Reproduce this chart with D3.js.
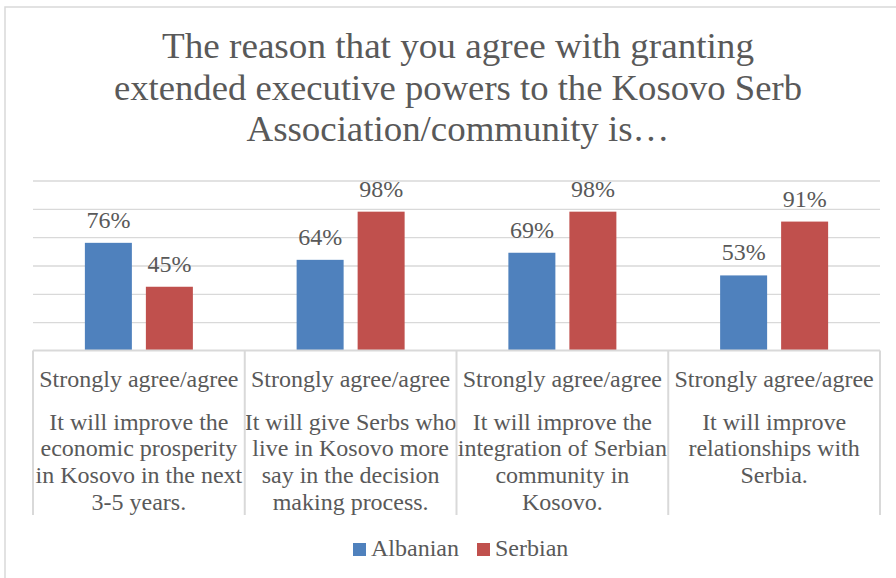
<!DOCTYPE html>
<html>
<head>
<meta charset="utf-8">
<script src="https://cdn.jsdelivr.net/npm/d3@7"></script>
<style>
  html, body { margin: 0; padding: 0; background: #ffffff; }
  svg { display: block; }
  text { font-family: "Liberation Serif", "DejaVu Serif", serif; fill: #595959; }
</style>
</head>
<body>
<svg id="chart" width="896" height="578"></svg>
<script>
// ---- data ----
const titleLines = [
  "The reason that you agree with granting",
  "extended executive powers to the Kosovo Serb",
  "Association/community is\u2026"
];
const categories = ["q1", "q2", "q3", "q4"];
const groupLabel = "Strongly agree/agree";
const categoryLines = [
  ["It will improve the", "economic prosperity", "in Kosovo in the next", "3-5 years."],
  ["It will give Serbs who", "live in Kosovo more", "say in the decision", "making process."],
  ["It will improve the", "integration of Serbian", "community in", "Kosovo."],
  ["It will improve", "relationships with", "Serbia."]
];
const seriesNames = ["Albanian", "Serbian"];
const albanian = [0.76, 0.64, 0.69, 0.53];
const serbian = [0.45, 0.98, 0.98, 0.91];
const yTicks = [0, 0.2, 0.4, 0.6, 0.8, 1.0, 1.2];
const colors = ["#4F81BD", "#C0504D"];

const seriesValues = [albanian, serbian];

// ---- layout ----
const svg = d3.select("#chart");
const plot = { left: 33, right: 880, top: 180.5, bottom: 350.5 };
const titleWidths = [592, 688, 423];

// chart area frame (top and left edges visible)
svg.append("path")
  .attr("d", "M5,578 L5,7 L896,7")
  .attr("fill", "none")
  .attr("stroke", "#d9d9d9")
  .attr("stroke-width", 1.5);

// title
svg.append("g").selectAll("text")
  .data(titleLines)
  .join("text")
  .attr("x", 458)
  .attr("y", (d, i) => 58 + i * 41.5)
  .attr("text-anchor", "middle")
  .attr("font-size", 35)
  .attr("textLength", (d, i) => titleWidths[i])
  .attr("lengthAdjust", "spacingAndGlyphs")
  .text(d => d);

// scales
const x0 = d3.scaleBand().domain(categories).range([plot.left, plot.right]);
const bandW = x0.bandwidth();
const x1 = d3.scaleBand().domain(seriesNames)
  .range([bandW / 2 - 54, bandW / 2 + 54])
  .paddingInner(14 / 61);
const y = d3.scaleLinear().domain([0, 1.2]).range([plot.bottom, plot.top]);

// gridlines
const grid = svg.append("g")
  .attr("transform", `translate(${plot.left},0)`)
  .call(d3.axisLeft(y).tickValues(yTicks.slice(1)).tickSize(-(plot.right - plot.left)).tickFormat(""));
grid.select(".domain").remove();
grid.selectAll(".tick line").attr("stroke", "#d9d9d9").attr("stroke-width", 1.3);

// bars
const groups = svg.append("g").selectAll("g")
  .data(categories)
  .join("g")
  .attr("transform", d => `translate(${x0(d)},0)`);

groups.selectAll("rect")
  .data((c, i) => seriesNames.map((s, k) => ({ s, k, v: seriesValues[k][i] })))
  .join("rect")
  .attr("x", d => x1(d.s))
  .attr("y", d => y(d.v))
  .attr("width", x1.bandwidth())
  .attr("height", d => y(0) - y(d.v))
  .attr("fill", d => colors[d.k]);

// value labels
groups.selectAll("text.val")
  .data((c, i) => seriesNames.map((s, k) => ({ s, k, v: seriesValues[k][i] })))
  .join("text")
  .attr("class", "val")
  .attr("x", d => x1(d.s) + x1.bandwidth() / 2)
  .attr("y", d => y(d.v) - 15)
  .attr("text-anchor", "middle")
  .attr("font-size", 24)
  .text(d => d3.format(".0%")(d.v));

// category axis: baseline and dividers
const axisG = svg.append("g");
axisG.append("line")
  .attr("x1", plot.left).attr("x2", plot.right)
  .attr("y1", y(0)).attr("y2", y(0))
  .attr("stroke", "#d9d9d9").attr("stroke-width", 2);
const dividers = categories.map(c => x0(c)).concat([plot.right]);
axisG.selectAll("line.div")
  .data(dividers)
  .join("line")
  .attr("class", "div")
  .attr("x1", d => d).attr("x2", d => d)
  .attr("y1", y(0)).attr("y2", 515)
  .attr("stroke", "#d9d9d9").attr("stroke-width", 2);

// inner level labels
groups.append("text")
  .attr("x", bandW / 2)
  .attr("y", 387)
  .attr("text-anchor", "middle")
  .attr("font-size", 24)
  .text(groupLabel);

// outer level labels
groups.each(function (c, i) {
  d3.select(this).selectAll("text.cat")
    .data(categoryLines[i])
    .join("text")
    .attr("class", "cat")
    .attr("x", bandW / 2)
    .attr("y", (d, j) => 429.5 + j * 26.7)
    .attr("text-anchor", "middle")
    .attr("font-size", 24)
    .text(d => d);
});

// legend
const legend = svg.append("g");
const legendX = [353, 477];
seriesNames.forEach((s, k) => {
  legend.append("rect")
    .attr("x", legendX[k]).attr("y", 543)
    .attr("width", 13).attr("height", 13)
    .attr("fill", colors[k]);
  legend.append("text")
    .attr("x", legendX[k] + 18).attr("y", 556)
    .attr("font-size", 24)
    .text(s);
});
</script>
</body>
</html>
